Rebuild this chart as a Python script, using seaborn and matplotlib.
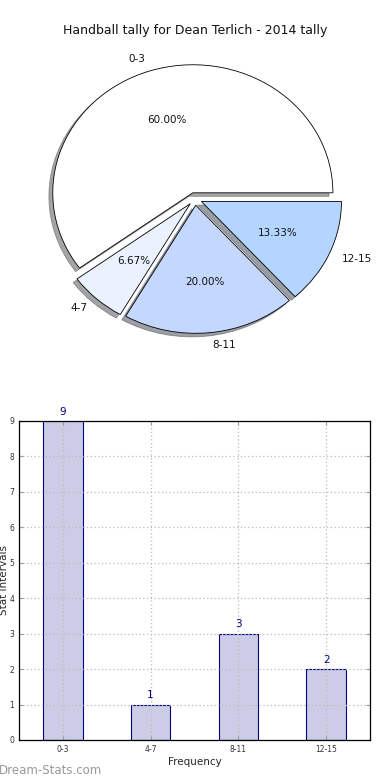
import matplotlib
matplotlib.use("Agg")
import matplotlib.pyplot as plt
import seaborn as sns
import pandas as pd

title = "Handball tally for Dean Terlich - 2014 tally"
categories = ["0-3", "4-7", "8-11", "12-15"]
counts = [9, 1, 3, 2]
pie_colors = ["#FFFFFF", "#EAF1FF", "#C4D8FF", "#B3D5FF"]

sns.set_style("white")
plt.rcParams['font.family'] = ['DejaVu Sans']

fig = plt.figure(figsize=(3.9, 7.8), dpi=100)

# Pie chart
axp = fig.add_axes([0.069, 0.548, 0.862, 0.394])
wedges, texts, autotexts = axp.pie(
    counts, labels=categories, colors=pie_colors, autopct="%.2f%%",
    startangle=0, counterclock=True, explode=[0.05] * 4, shadow=True,
    labeldistance=1.1, pctdistance=0.6,
    wedgeprops=dict(edgecolor="black", linewidth=0.6),
    textprops=dict(fontsize=7.5, color="#111111"))
axp.set_aspect("auto")
axp.set_xlim(-1.2, 1.2)
axp.set_ylim(-1.2, 1.2)
axp.axis("off")
fig.text(0.5, 0.961, title, ha="center", va="center", fontsize=9, color="#111111")

# Bar chart
axb = fig.add_axes([0.0487, 0.0513, 0.9, 0.409])
df = pd.DataFrame({"cat": categories, "count": counts})
sns.barplot(data=df, x="cat", y="count", color="#CCCCE6", saturation=1,
            edgecolor="navy", linewidth=0.8, width=0.45, ax=axb)
axb.set_xlim(-0.5, 3.5)
axb.set_ylim(0, 9)
axb.set_yticks(range(0, 10))
axb.set_axisbelow(False)
axb.grid(True, linestyle=(0, (1, 2)), color="#BBBBBB", linewidth=0.9)
for s in axb.spines.values():
    s.set_color("black")
    s.set_linewidth(0.9)
    s.set_zorder(5)
axb.tick_params(labelsize=5.5, direction="in", length=3, color="#999999",
                labelcolor="#333333",
                top=True, right=True, bottom=True, left=True)
for i, v in enumerate(counts):
    axb.text(i, v + 0.12, str(v), ha="center", va="bottom", fontsize=7.5, color="navy")
axb.set_xlabel("Frequency", fontsize=7.5, labelpad=2)
axb.set_ylabel("Stat intervals", fontsize=7.5)
axb.yaxis.set_label_coords(-0.028, 0.5)

fig.text(-0.003, 0.012, "Dream-Stats.com", fontsize=8.5, color="#999999",
         ha="left", va="center")

fig.savefig("out.png", dpi=100)
